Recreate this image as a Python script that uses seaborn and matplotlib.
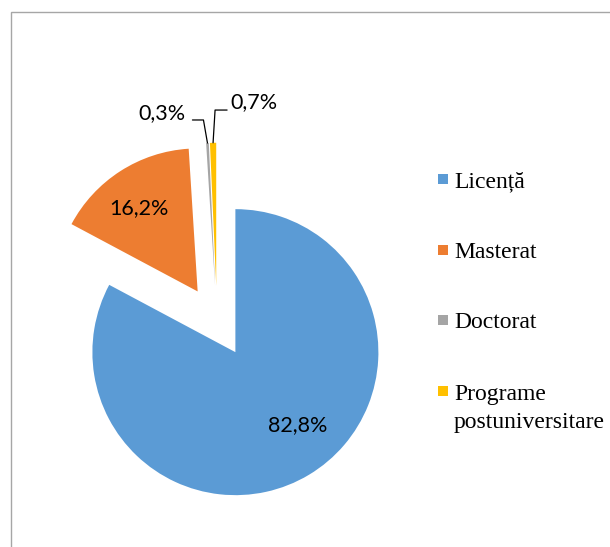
import matplotlib
matplotlib.use("Agg")
import numpy as np
import matplotlib.pyplot as plt
import seaborn as sns
from matplotlib.patches import Rectangle

# --- Data ---
categories = ['Licență', 'Masterat', 'Doctorat', 'Programe\npostuniversitare']
shares = [82.8, 16.2, 0.3, 0.7]
pct_labels = ['82,8%', '16,2%', '0,3%', '0,7%']
colors = ['#5B9BD5', '#ED7D31', '#A5A5A5', '#FFC000']

sns.set_theme(style='white')
plt.rcParams['font.family'] = ['Lato', 'DejaVu Sans']

W, H = 610, 547
fig = plt.figure(figsize=(W / 100, H / 100), dpi=100)
ax = fig.add_axes([0, 0, 1, 1])

# pie geometry in pixels
R = 143.0
cx, cy = 217.0, H - 321.5

palette = sns.color_palette(colors)
wedges, _ = ax.pie(shares, colors=palette, startangle=90, counterclock=False,
                   explode=[0.25] * len(shares), radius=1,
                   wedgeprops=dict(linewidth=0))

ax.set_aspect('auto')
ax.set_xlim(-cx / R, (W - cx) / R)
ax.set_ylim(-cy / R, (H - cy) / R)
ax.axis('off')


def mid_dir(w):
    a = np.deg2rad((w.theta1 + w.theta2) / 2)
    return np.array([np.cos(a), np.sin(a)])


# big labels inside the wedges (small nudge to match excel placement)
nudges = [(0.084, 0.084), (-0.035, 0.0)]
for w, lab, nd in zip(wedges[:2], pct_labels[:2], nudges):
    p = np.array(w.center) + 0.69 * mid_dir(w) + np.array(nd)
    ax.text(p[0], p[1], lab, ha='center', va='center', fontsize=15.5, color='black')

# small labels with leader lines
leader = {
    2: dict(elbow=(-0.028, 0.161), end=(-0.105, 0.161), txt=(-0.154, 0.21), ha='right'),
    3: dict(elbow=(0.014, 0.229), end=(0.098, 0.229), txt=(0.119, 0.285), ha='left'),
}
for i, opt in leader.items():
    w = wedges[i]
    p = np.array(w.center) + w.r * mid_dir(w)
    e = p + np.array(opt['elbow'])
    q = p + np.array(opt['end'])
    ax.plot([p[0], e[0], q[0]], [p[1], e[1], q[1]], color='black', lw=0.9)
    t = p + np.array(opt['txt'])
    ax.text(t[0], t[1], pct_labels[i], ha=opt['ha'], va='center', fontsize=15.5, color='black')

# legend drawn by hand
for i, (lab, col) in enumerate(zip(categories, palette)):
    yc = 179 + i * 70.7
    fig.patches.append(Rectangle((438 / W, 1 - (yc + 5) / H), 10 / W, 10 / H,
                                 transform=fig.transFigure, facecolor=col,
                                 edgecolor='none'))
    # baseline of a multi-line text is the last line's
    extra = lab.count('\n') * 29
    fig.text(454 / W, 1 - (yc + 8 + extra) / H, lab, ha='left', va='baseline',
             fontsize=17, family=['Liberation Serif', 'DejaVu Serif'],
             color='black', linespacing=1.42)

# chart frame
fig.patches.append(Rectangle((11 / W, -0.01), 1.0, 1.01 - 12 / H,
                             transform=fig.transFigure, fill=False,
                             edgecolor='#A6A6A6', linewidth=1.0))

fig.savefig('out.png', dpi=100, facecolor='white')
